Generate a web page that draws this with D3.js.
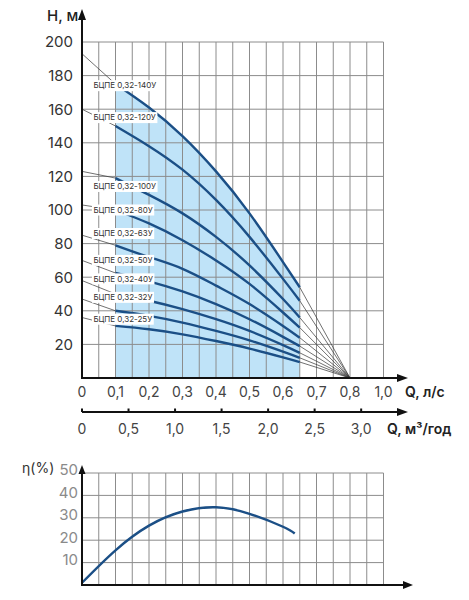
<!DOCTYPE html>
<html><head><meta charset="utf-8">
<script src="https://cdn.jsdelivr.net/npm/d3@7"></script>
<style>body{margin:0;background:#fff} svg{display:block} text{font-family:Inter,"Open Sans",sans-serif}</style>
</head><body><svg id="c" width="469" height="600"></svg>
<script>
// ---------- data ----------
const pumpQ = [0, 0.1, 0.2, 0.3, 0.4, 0.5, 0.6, 0.65];
const pumpNames = ["БЦПЕ 0,32-140У","БЦПЕ 0,32-120У","БЦПЕ 0,32-100У","БЦПЕ 0,32-80У","БЦПЕ 0,32-63У","БЦПЕ 0,32-50У","БЦПЕ 0,32-40У","БЦПЕ 0,32-32У","БЦПЕ 0,32-25У"];
const h140 = [193, 175, 161, 144, 123, 98, 69, 54];
const h120 = [160, 150, 138, 124, 106, 84, 59, 46];
const h100 = [123, 119, 109, 98, 84, 67, 47, 36];
const h80  = [103, 100, 92, 82, 70, 56, 39, 30];
const h63  = [85, 79, 72, 65, 55, 44, 31, 24];
const h50  = [70, 62.5, 57.5, 51.5, 44, 35, 24.5, 19];
const h40  = [58, 50, 46, 41, 35, 28, 19.6, 15];
const h32  = [47, 40, 37, 33, 28, 22.4, 15.7, 12];
const h25  = [36, 31, 29, 26, 22, 17.5, 12.3, 9.5];
const labelH = [174, 155, 114, 100, 86, 70, 59, 48, 35];
const qZeroHead = 0.8;

const qTicks = [0, 0.1, 0.2, 0.3, 0.4, 0.5, 0.6, 0.7, 0.8, 0.9];
const qTickLabels = ["0","0,1","0,2","0,3","0,4","0,5","0,6","0,7","0,8","1,0"];
const m3Ticks = [0, 0.5, 1.0, 1.5, 2.0, 2.5, 3.0];
const m3TickLabels = ["0","0,5","1,0","1,5","2,0","2,5","3,0"];
const hTicks = [20, 40, 60, 80, 100, 120, 140, 160, 180, 200];
const etaTicks = [10, 20, 30, 40, 50];
const etaQ   = [0, 0.1, 0.2, 0.3, 0.4, 0.5, 0.6, 0.635];
const etaVal = [1, 15.5, 26.5, 32.8, 34.7, 31.8, 26, 23];

// ---------- layout ----------
const svg = d3.select("#c");
const x = d3.scaleLinear().domain([0, 0.9]).range([82, 383.5]);
const xm3 = d3.scaleLinear().domain([0, 3.24]).range([82, 383.5]);
const y = d3.scaleLinear().domain([0, 200]).range([378, 42]);
const ye = d3.scaleLinear().domain([0, 50]).range([585, 473]);
const gridQ = d3.range(0, 0.9001, 0.05);
const blue = "#1b4f86", shade = "#bfe3f8", gridC = "#8c8c8c";

const series = [h140,h120,h100,h80,h63,h50,h40,h32,h25].map((v,i)=>({name:pumpNames[i], values:v, lab:labelH[i]}));
const pts = s => pumpQ.map((q,i)=>[q, s.values[i]]);

// shaded operating region under the top curve
const topPts = pts(series[0]).slice(1);
svg.append("path")
  .attr("d", d3.area().x(d=>x(d[0])).y0(y(0)).y1(d=>y(d[1])).curve(d3.curveNatural)(topPts))
  .attr("fill", shade);

// grid top
const gTop = svg.append("g").attr("stroke", gridC).attr("stroke-width", 1);
gridQ.forEach(q => gTop.append("line").attr("x1", x(q)).attr("x2", x(q)).attr("y1", y(0)).attr("y2", y(200)));
hTicks.forEach(h => gTop.append("line").attr("x1", x(0)).attr("x2", x(0.9)).attr("y1", y(h)).attr("y2", y(h)));

// thin extension lines
const thin = svg.append("g").attr("stroke", "#333").attr("stroke-width", 0.7).attr("fill", "none");
series.forEach(s => {
  const p = pts(s);
  thin.append("line").attr("x1", x(p[0][0])).attr("y1", y(p[0][1])).attr("x2", x(p[1][0])).attr("y2", y(p[1][1]));
  const last = p[p.length-1];
  thin.append("line").attr("x1", x(last[0])).attr("y1", y(last[1])).attr("x2", x(qZeroHead)).attr("y2", y(0));
});

// thick pump curves
const line = d3.line().x(d=>x(d[0])).y(d=>y(d[1])).curve(d3.curveNatural);
series.forEach(s => {
  svg.append("path").attr("d", line(pts(s).slice(1))).attr("fill","none").attr("stroke", blue).attr("stroke-width", 2.4);
});

// labels
series.forEach(s => {
  const g = svg.append("g");
  const t = g.append("text").attr("x", x(0.034)).attr("y", y(s.lab)).attr("dy", "0.35em")
    .attr("font-size", 8).attr("fill", "#333").text(s.name);
  const w = t.node().getComputedTextLength();
  g.insert("rect", "text").attr("x", x(0.034)-1.5).attr("y", y(s.lab)-5.5).attr("width", w+3).attr("height", 11).attr("fill", "#fff");
});

// axes (top)
const axC = "#111";
svg.append("line").attr("x1", x(0)).attr("x2", x(0)).attr("y1", y(0)+1).attr("y2", 16).attr("stroke", axC).attr("stroke-width", 2);
svg.append("path").attr("d", `M${x(0)-4},20 L${x(0)},9 L${x(0)+4},20 Z`).attr("fill", axC);
svg.append("line").attr("x1", x(0)-1).attr("x2", 400).attr("y1", y(0)).attr("y2", y(0)).attr("stroke", axC).attr("stroke-width", 2);
svg.append("path").attr("d", `M397,${y(0)-4} L408,${y(0)} L397,${y(0)+4} Z`).attr("fill", axC);

// y tick labels
svg.append("g").selectAll("text").data(hTicks).join("text")
  .attr("x", 73).attr("y", d=>y(d)).attr("dy","0.36em").attr("text-anchor","end")
  .attr("font-size", 15).attr("fill", "#333").text(d=>d);
svg.append("text").attr("x", 47).attr("y", 21).attr("font-size", 15).attr("font-weight", 500).attr("fill","#222").text("H, м");

// x tick labels l/s
svg.append("g").selectAll("text").data(qTicks).join("text")
  .attr("x", d=>x(d)).attr("y", 392).attr("dy","0.36em").attr("text-anchor","middle")
  .attr("font-size", 14).attr("fill", "#444").text((d,i)=>qTickLabels[i]);
svg.append("text").attr("x", 405).attr("y", 392).attr("dy","0.36em").attr("font-size", 14).attr("font-weight", 600).attr("fill","#222").text("Q, л/с");

// m3/h axis
const m3y = 412;
svg.append("line").attr("x1", x(0)).attr("x2", 400).attr("y1", m3y).attr("y2", m3y).attr("stroke", axC).attr("stroke-width", 2);
svg.append("path").attr("d", `M397,${m3y-4} L408,${m3y} L397,${m3y+4} Z`).attr("fill", axC);
svg.append("g").selectAll("line").data(m3Ticks).join("line")
  .attr("x1", d=>xm3(d)).attr("x2", d=>xm3(d)).attr("y1", m3y-3.5).attr("y2", m3y).attr("stroke", axC).attr("stroke-width", 2);
svg.append("g").selectAll("text").data(m3Ticks).join("text")
  .attr("x", d=>xm3(d)).attr("y", 429).attr("dy","0.36em").attr("text-anchor","middle")
  .attr("font-size", 14).attr("fill", "#444").text((d,i)=>m3TickLabels[i]);
svg.append("text").attr("x", 387).attr("y", 429).attr("dy","0.36em").attr("font-size", 14).attr("font-weight", 600).attr("fill","#222").text("Q, м³/год");

// ---------- efficiency chart ----------
const gE = svg.append("g").attr("stroke", gridC).attr("stroke-width", 1);
gridQ.forEach(q => gE.append("line").attr("x1", x(q)).attr("x2", x(q)).attr("y1", ye(0)).attr("y2", ye(50)));
etaTicks.forEach(v => gE.append("line").attr("x1", x(0)).attr("x2", x(0.9)).attr("y1", ye(v)).attr("y2", ye(v)));

svg.append("path").attr("d", d3.line().x(d=>x(d[0])).y(d=>ye(d[1])).curve(d3.curveNatural)(etaQ.map((q,i)=>[q, etaVal[i]])))
  .attr("fill","none").attr("stroke", blue).attr("stroke-width", 2.4);

svg.append("line").attr("x1", x(0)).attr("x2", x(0)).attr("y1", ye(0)+1).attr("y2", 472).attr("stroke", axC).attr("stroke-width", 2);
svg.append("path").attr("d", `M${x(0)-3.5},474 L${x(0)},465 L${x(0)+3.5},474 Z`).attr("fill", axC);
svg.append("line").attr("x1", x(0)-1).attr("x2", 406).attr("y1", ye(0)).attr("y2", ye(0)).attr("stroke", axC).attr("stroke-width", 2);
svg.append("path").attr("d", `M403,${ye(0)-4} L413,${ye(0)} L403,${ye(0)+4} Z`).attr("fill", axC);

svg.append("g").selectAll("text").data(etaTicks).join("text")
  .attr("x", 78).attr("y", d=>ye(d)-3).attr("dy","0.36em").attr("text-anchor","end")
  .attr("font-size", 15).attr("fill", "#8a8a8a").text(d=>d);
svg.append("text").attr("x", 22).attr("y", 468).attr("dy","0.36em").attr("font-size", 14).attr("fill","#333").text("η(%)");
</script></body></html>
